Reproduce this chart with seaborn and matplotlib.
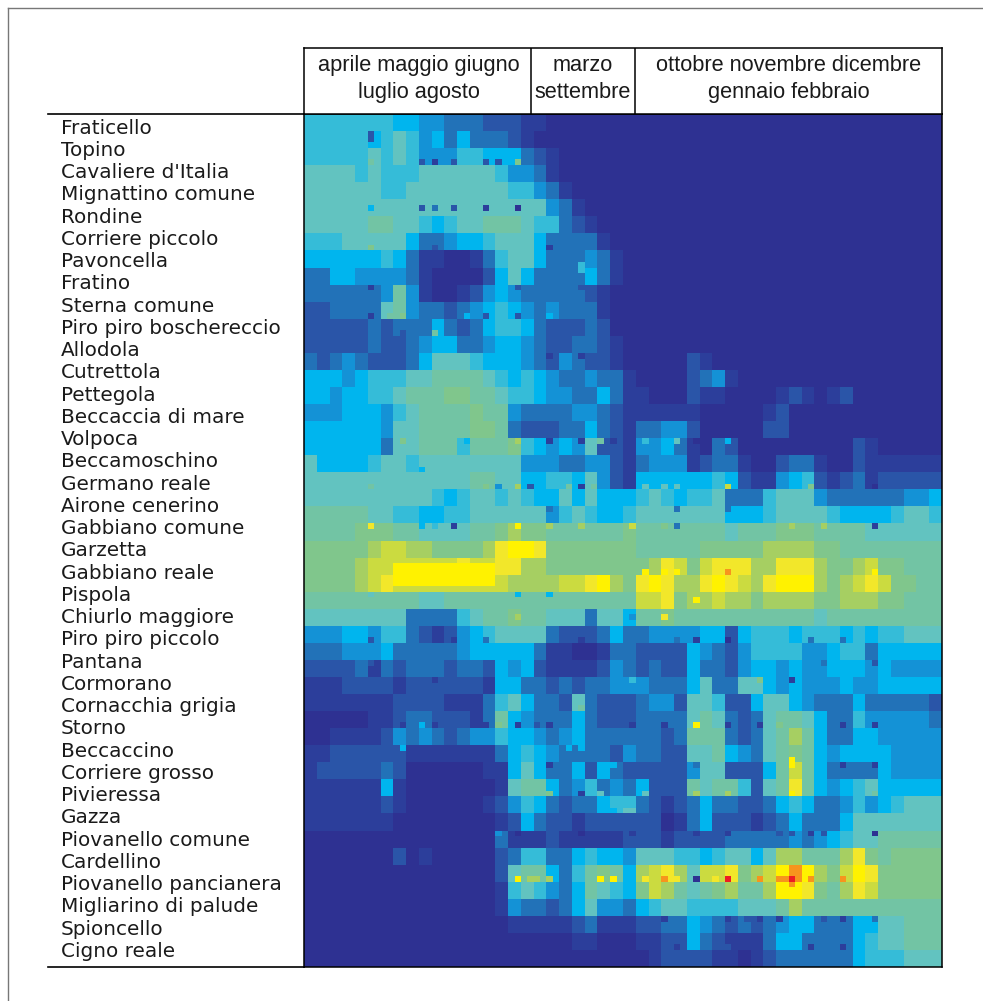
import matplotlib
matplotlib.use("Agg")
import matplotlib.pyplot as plt
import numpy as np
import pandas as pd
import seaborn as sns
from matplotlib.colors import ListedColormap
from matplotlib.lines import Line2D

specie = ["Fraticello", "Topino", "Cavaliere d'Italia", "Mignattino comune", "Rondine",
          "Corriere piccolo", "Pavoncella", "Fratino", "Sterna comune", "Piro piro boschereccio",
          "Allodola", "Cutrettola", "Pettegola", "Beccaccia di mare", "Volpoca", "Beccamoschino",
          "Germano reale", "Airone cenerino", "Gabbiano comune", "Garzetta", "Gabbiano reale",
          "Pispola", "Chiurlo maggiore", "Piro piro piccolo", "Pantana", "Cormorano",
          "Cornacchia grigia", "Storno", "Beccaccino", "Corriere grosso", "Pivieressa", "Gazza",
          "Piovanello comune", "Cardellino", "Piovanello pancianera", "Migliarino di palude",
          "Spioncello", "Cigno reale"]

mesi = ["aprile maggio giugno\nluglio agosto", "marzo\nsettembre",
        "ottobre novembre dicembre\ngennaio febbraio"]

# livelli 0-15, una cifra esadecimale per cella (gli zeri finali sono omessi)
righe = [
    "6666666554 4333222110",
    "6666656764 5353332100",
    "6666676764 4466555321",
    "7777676667 7777764431",
    "7777776677 7777776643 1",
    "7777777777 7777777774 31",
    "7777788776 5677888766 321",
    "6667777753 3455677753 33310",
    "5555556531 1001367753 33431",
    "3355444431 0000257533 33531",
    "3333334841 0012454333 33210",
    "2233337843 3234565434 33310",
    "2222232333 5323566532 22320",
    "2222232234 5533455432 23321",
    "3234322235 7776555432 43221 00000 21",
    "5554566677 8888765654 33433 10000 2341",
    "5545566788 8998876654 43353 11000 21100 00121 012",
    "4445554678 8889884333 34432 11111 10000 01200",
    "5555554778 8889983222 33532 13344 20000 02200",
    "5555553778 8868889654 54722 14453 10320 00000 00021",
    "7555567767 7777777444 33442 13444 12331 00233 10021 11111",
    "7777777777 7778877556 65742 15555 55652 11456 21231 22222",
    "7777777777 6567767655 75755 56765 66733 36777 43333 33445",
    "8888877665 5667777774 67655 67777 77755 56777 76555 56776",
    "8888999887 777889a998 88888 98888 88878 88999 88887 77777",
    "99999abbaa 9999acddc9 99999 98888 89999 9aaaa 99888 88888",
    "9999abbbbb bbcbbccaa9 99999 99acb 9bccc aaccc a99ab 99888",
    "9999abcbbb bbbbbbaaaa bbcda 9cdca acdcb acddd a9abc b9988",
    "8888888887 7888888888 88888 8bbc9 aabaa 9aaaa 99aaa 99888",
    "7777777733 3367889887 77377 58898 88888 88888 78888 88888",
    "4445546632 1245677773 22235 33444 45525 66656 66565 66777",
    "3334445333 3345555531 10013 32222 54324 66664 45663 55555",
    "2222313233 3233254521 11124 32322 53324 55454 45554 54444",
    "1112222122 2222155332 32334 44333 57337 75454 44544 55555",
    "1111111222 2111367533 27322 23442 77622 57754 33353 33332",
    "0000011233 2221385433 35322 23333 78732 37887 53364 44443",
    "0011112434 3234465543 45333 33323 88832 378a8 53355 44444",
    "1122222211 1111135654 33332 43322 77854 37898 54555 54444",
    "1222223200 0000115753 35253 22222 47722 258b8 53333 54444",
    "1111115100 0000017885 34634 35222 87886 278c8 54567 55555",
    "1111112100 0000124653 23356 63212 35332 23565 33464 56777",
    "1111111000 0000012532 21222 22201 35222 12353 33577 77777",
    "0000000000 0000031112 11111 22212 22233 33343 45677 88888",
    "0000000201 0000023663 35655 47776 65677 57aa8 88ac9 89999",
    "0000000000 0000027885 36898 5abca 7bbc9 abded a9bdc 99999",
    "0000000000 0000016764 35876 59ba8 789a8 8addc 98acb 99999",
    "0000000000 0000014332 35744 35677 66667 778a8 88888 88888",
    "0000000000 0000001111 12311 12233 54323 23455 33355 77888",
    "0000000000 0000000000 01100 01122 53211 13553 33356 77888",
    "0000000000 0000000000 00000 00122 22110 12333 33356 66777",
]

# fascia gialla di Gabbiano reale (riga fine, prima e ultima colonna fine, livello)
fasce = [(79, 14, 29, 13), (80, 14, 29, 13), (81, 14, 29, 13), (82, 14, 29, 13)]

# celle singole (riga fine, colonna fine, livello): i puntini visibili nella griglia
puntini = [
    (3, 10, 2), (4, 10, 2),
    (8, 10, 8), (8, 18, 2), (8, 20, 1), (8, 23, 2), (8, 28, 2), (8, 30, 2), (8, 33, 9),
    (16, 10, 5), (16, 18, 2), (16, 20, 3), (16, 23, 2), (16, 28, 1), (16, 33, 0),
    (23, 10, 9), (23, 20, 2), (23, 38, 1), (26, 43, 6), (27, 43, 6),
    (30, 10, 1), (30, 33, 2), (30, 43, 2),
    (35, 10, 1), (35, 13, 8), (35, 15, 9), (35, 23, 2), (35, 25, 5), (35, 28, 2), (35, 33, 2), (35, 38, 5),
    (38, 15, 2), (38, 20, 8), (38, 38, 2),
    (42, 13, 2), (42, 30, 5), (42, 33, 5), (42, 38, 1), (42, 43, 1),
    (57, 13, 3), (57, 15, 9), (57, 18, 8), (57, 20, 8), (57, 25, 5), (57, 33, 10), (57, 38, 1), (57, 43, 1),
    (57, 46, 8), (57, 48, 1), (57, 53, 6), (57, 56, 5), (57, 58, 7), (57, 61, 0), (57, 66, 5),
    (62, 18, 5),
    (65, 10, 8), (65, 28, 9), (65, 30, 4), (65, 33, 10), (65, 35, 2), (65, 41, 8), (65, 43, 1), (65, 45, 8),
    (65, 51, 1), (65, 53, 7), (65, 56, 7), (65, 58, 7), (65, 66, 11), (65, 79, 9), (65, 89, 0),
    (69, 20, 5), (69, 38, 3), (69, 58, 3), (69, 66, 3),
    (72, 10, 12), (72, 18, 5), (72, 20, 6), (72, 23, 1), (72, 33, 13), (72, 38, 10), (72, 43, 10), (72, 51, 11),
    (72, 56, 9), (72, 58, 3), (72, 76, 10), (72, 81, 10), (72, 89, 1),
    (80, 53, 13), (80, 56, 13), (80, 58, 13), (80, 66, 14), (80, 89, 13),
    (84, 10, 7), (84, 33, 5), (84, 38, 5), (85, 61, 13),
    (88, 33, 10), (88, 51, 4), (88, 56, 12),
    (92, 10, 2), (92, 20, 1), (92, 23, 1), (92, 28, 3), (92, 43, 1), (92, 56, 4), (92, 58, 3), (92, 61, 1),
    (92, 66, 0), (92, 79, 3), (92, 84, 3),
    (96, 10, 2), (96, 56, 2), (96, 66, 2), (96, 81, 3), (96, 89, 2),
    (99, 20, 1), (99, 28, 1), (99, 51, 6), (99, 71, 9), (99, 76, 1),
    (104, 43, 8),
    (107, 15, 1), (107, 18, 5), (107, 20, 1), (107, 28, 1), (107, 30, 9), (107, 33, 1), (107, 36, 2), (107, 38, 1),
    (107, 51, 1), (107, 56, 1), (107, 61, 13), (107, 66, 1), (107, 71, 1), (107, 74, 9), (107, 84, 1), (107, 89, 1),
    (111, 15, 5), (111, 41, 5), (111, 43, 5),
    (113, 76, 13),
    (114, 38, 1), (114, 43, 5), (114, 45, 2), (114, 48, 5), (114, 51, 2), (114, 56, 2), (114, 61, 3), (114, 66, 2),
    (114, 71, 2), (114, 76, 13), (114, 84, 1), (114, 89, 1),
    (119, 10, 1), (119, 13, 5), (119, 38, 9), (119, 43, 1), (119, 46, 7), (119, 53, 7), (119, 61, 10), (119, 66, 10),
    (119, 76, 13), (119, 89, 8),
    (122, 48, 5), (122, 50, 7), (122, 51, 7), (122, 56, 1),
    (126, 30, 4), (126, 33, 0), (126, 35, 1), (126, 36, 1), (126, 41, 1), (126, 43, 0), (126, 51, 1), (126, 56, 1),
    (126, 61, 1), (126, 66, 1), (126, 74, 2), (126, 76, 2), (126, 79, 1), (126, 81, 2), (126, 89, 0),
    (132, 76, 14),
    (134, 33, 13), (134, 35, 10), (134, 36, 10), (134, 38, 10), (134, 46, 13), (134, 48, 13), (134, 53, 12),
    (134, 56, 14), (134, 58, 12), (134, 61, 0), (134, 64, 12), (134, 66, 15), (134, 71, 14), (134, 74, 14),
    (134, 75, 14), (134, 76, 15), (134, 77, 14), (134, 79, 14), (134, 84, 14), (134, 86, 13),
    (135, 76, 14),
    (141, 56, 1), (141, 66, 1), (141, 69, 2), (141, 71, 1), (141, 74, 1), (141, 81, 2), (141, 84, 1), (141, 89, 3),
    (146, 58, 1), (146, 64, 2), (146, 66, 2), (146, 79, 1), (146, 84, 1),
]

colori = ["#2E3192", "#2C3E9B", "#2A55A8", "#2272B8", "#1492D6", "#00B5EE", "#35BCD8", "#62C3C0",
          "#72C4A4", "#80C68C", "#A6CF62", "#CBDB40", "#F2E72A", "#FFF200", "#F7941D", "#ED1C24"]

griglia = np.array([[int(c, 16) for c in r.replace(" ", "").ljust(50, "0")] for r in righe])
griglia = np.kron(griglia, np.ones((3, 2), dtype=int))
for r, c0, c1, v in fasce:
    griglia[r, c0:c1 + 1] = v
for r, c, v in puntini:
    griglia[r, c] = v
df = pd.DataFrame(griglia)

W, H = 983, 1001
fig = plt.figure(figsize=(W / 100, H / 100), dpi=100, facecolor="white")

ax = fig.add_axes([304 / W, 1 - 967 / H, 638 / W, 853 / H])
sns.heatmap(df, ax=ax, cmap=ListedColormap(colori), vmin=-0.5, vmax=15.5, cbar=False,
            xticklabels=False, yticklabels=False)
ax.set_xlabel("")
ax.set_ylabel("")
ax.set_yticks(np.linspace(2.15, 146.9, len(specie)))
ax.set_yticklabels(specie, rotation=0, ha="left", fontsize=14.4, family="DejaVu Sans", color="#1a1a1a")
ax.tick_params(axis="y", left=False, pad=171.5)
for s in ax.spines.values():
    s.set_visible(True)
    s.set_color("black")
    s.set_linewidth(1.1)

# intestazione dei mesi
top = fig.add_axes([304 / W, 1 - 113.5 / H, 638 / W, 65.5 / H])
top.set_xlim(304, 942)
top.set_ylim(0, 1)
top.set_xticks([])
top.set_yticks([])
for s in top.spines.values():
    s.set_color("black")
    s.set_linewidth(1.1)
for xv in [531, 635]:
    top.axvline(xv, color="black", lw=1.1)
for xc, testo in zip([419, 583, 789], mesi):
    top.text(xc, 0.53, testo, ha="center", va="center", fontsize=15.7, family="Liberation Sans",
             color="#1a1a1a", linespacing=1.4)

# linee orizzontali a sinistra e cornice grigia
for yv in [113.5, 967]:
    fig.add_artist(Line2D([48 / W, 304 / W], [1 - yv / H] * 2, color="black", lw=1.2))
fig.add_artist(Line2D([8 / W, 1], [1 - 8 / H] * 2, color="#777777", lw=1))
fig.add_artist(Line2D([8 / W, 8 / W], [1 - 8 / H, 0], color="#777777", lw=1))

fig.savefig("out.png", dpi=100, facecolor="white")
